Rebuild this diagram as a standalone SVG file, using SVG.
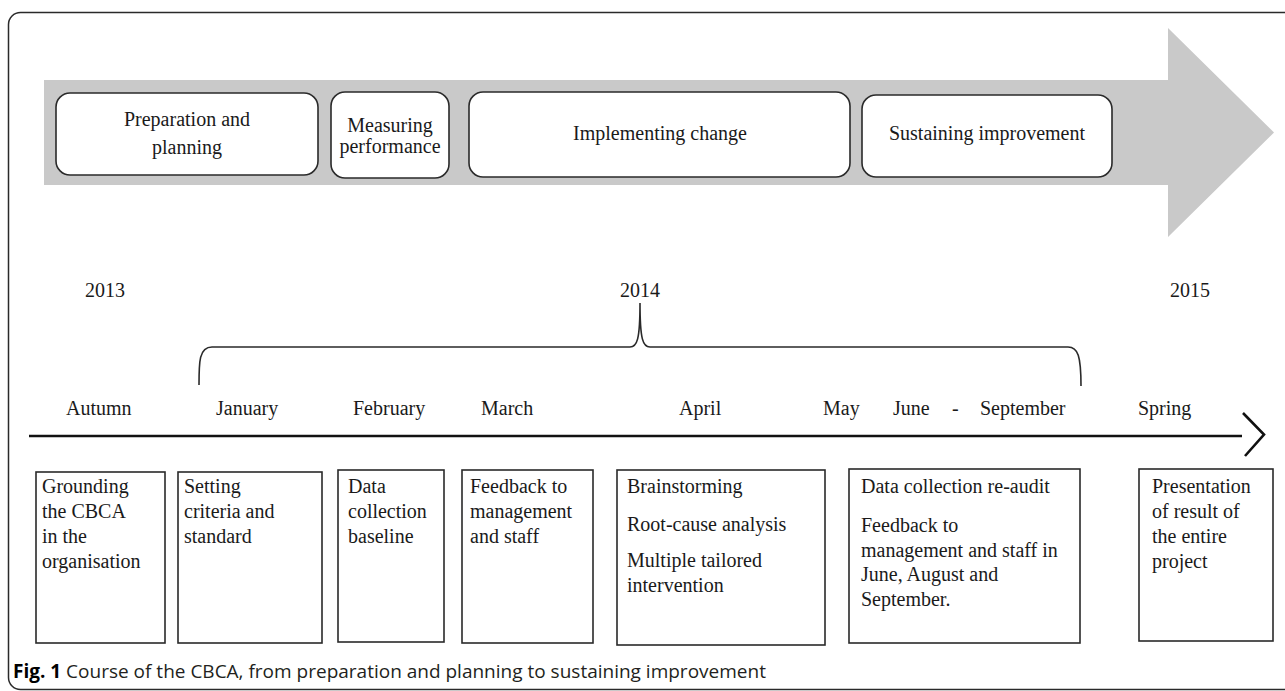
<svg xmlns="http://www.w3.org/2000/svg" width="1285" height="691" viewBox="0 0 1285 691">
<style>
.t{font-family:"Liberation Serif","Times New Roman",serif;font-size:20px;fill:#1a1a1a}
.m{text-anchor:middle}
.rb{fill:#fff;stroke:#2a2a2a;stroke-width:1.6}
.sb{fill:#fff;stroke:#2a2a2a;stroke-width:1.6}
.cap{font-family:"Open Sans","Noto Sans",sans-serif;font-size:19px;fill:#231f20}
</style>
<rect x="8.5" y="12.5" width="1300" height="677" rx="12" fill="#fff" stroke="#2a2a2a" stroke-width="1.5"/>
<g id="phase-arrow">
<polygon points="44,80 1168,80 1168,28 1274,132.5 1168,237 1168,185 44,185" fill="#c9c9c9"/>
</g>
<g id="phase-preparation">
<rect class="rb" x="56" y="93" width="262" height="82" rx="14"/>
<text class="t m" x="187" y="126">Preparation and</text>
<text class="t m" x="187" y="154">planning</text>
</g>
<g id="phase-measuring">
<rect class="rb" x="331" y="92" width="118" height="86" rx="14"/>
<text class="t m" x="390" y="132">Measuring</text>
<text class="t m" x="390" y="153">performance</text>
</g>
<g id="phase-implementing">
<rect class="rb" x="469" y="92" width="381" height="85" rx="14"/>
<text class="t m" x="660" y="140">Implementing change</text>
</g>
<g id="phase-sustaining">
<rect class="rb" x="862" y="95" width="250" height="82" rx="14"/>
<text class="t m" x="987" y="140">Sustaining improvement</text>
</g>
<g id="years">
<text class="t" x="85" y="297">2013</text>
<text class="t m" x="640" y="297">2014</text>
<text class="t" x="1170" y="297">2015</text>
</g>
<g id="connectors" fill="none" stroke="#2a2a2a">
<path d="M199,385 C199,362 199,347 212,347 L630,347 C637,347 640,340 640,303 C640,340 643,347 650,347 L1068,347 C1078,347 1081,356 1081,386" stroke-width="1.6"/>
<line x1="29" y1="436" x2="1242" y2="436" stroke-width="2.6" stroke="#111"/>
<polyline points="1243,413 1264,434.5 1245,456" stroke-width="2.6" stroke="#111"/>
</g>
<g id="months">
<text class="t" x="66" y="415">Autumn</text>
<text class="t" x="216" y="415">January</text>
<text class="t" x="353" y="415">February</text>
<text class="t" x="481" y="415">March</text>
<text class="t" x="679" y="415">April</text>
<text class="t" x="823" y="415">May</text>
<text class="t" x="893" y="415">June</text>
<text class="t" x="952" y="415">-</text>
<text class="t" x="980" y="415">September</text>
<text class="t" x="1138" y="415">Spring</text>
</g>
<g id="step-grounding">
<rect class="sb" x="36" y="472" width="129" height="171"/>
<text class="t" x="42" y="493">Grounding</text>
<text class="t" x="42" y="518">the CBCA</text>
<text class="t" x="42" y="543">in the</text>
<text class="t" x="42" y="568">organisation</text>
</g>
<g id="step-setting">
<rect class="sb" x="178" y="472" width="144" height="171"/>
<text class="t" x="184" y="493">Setting</text>
<text class="t" x="184" y="518">criteria and</text>
<text class="t" x="184" y="543">standard</text>
</g>
<g id="step-baseline">
<rect class="sb" x="338" y="470" width="106" height="172"/>
<text class="t" x="348" y="493">Data</text>
<text class="t" x="348" y="518">collection</text>
<text class="t" x="348" y="543">baseline</text>
</g>
<g id="step-feedback">
<rect class="sb" x="462" y="470" width="131" height="173"/>
<text class="t" x="470" y="493">Feedback to</text>
<text class="t" x="470" y="518">management</text>
<text class="t" x="470" y="543">and staff</text>
</g>
<g id="step-intervention">
<rect class="sb" x="617" y="470" width="208" height="175"/>
<text class="t" x="627" y="493">Brainstorming</text>
<text class="t" x="627" y="531">Root-cause analysis</text>
<text class="t" x="627" y="567">Multiple tailored</text>
<text class="t" x="627" y="592">intervention</text>
</g>
<g id="step-reaudit">
<rect class="sb" x="849" y="469" width="231" height="174"/>
<text class="t" x="861" y="493">Data collection re-audit</text>
<text class="t" x="861" y="532">Feedback to</text>
<text class="t" x="861" y="557">management and staff in</text>
<text class="t" x="861" y="581">June, August and</text>
<text class="t" x="861" y="606">September.</text>
</g>
<g id="step-presentation">
<rect class="sb" x="1139" y="469" width="134" height="172"/>
<text class="t" x="1152" y="493">Presentation</text>
<text class="t" x="1152" y="518">of result of</text>
<text class="t" x="1152" y="543">the entire</text>
<text class="t" x="1152" y="568">project</text>
</g>
<text class="cap" x="13" y="678"><tspan font-weight="bold" fill="#000">Fig. 1</tspan> Course of the CBCA, from preparation and planning to sustaining improvement</text>
</svg>
